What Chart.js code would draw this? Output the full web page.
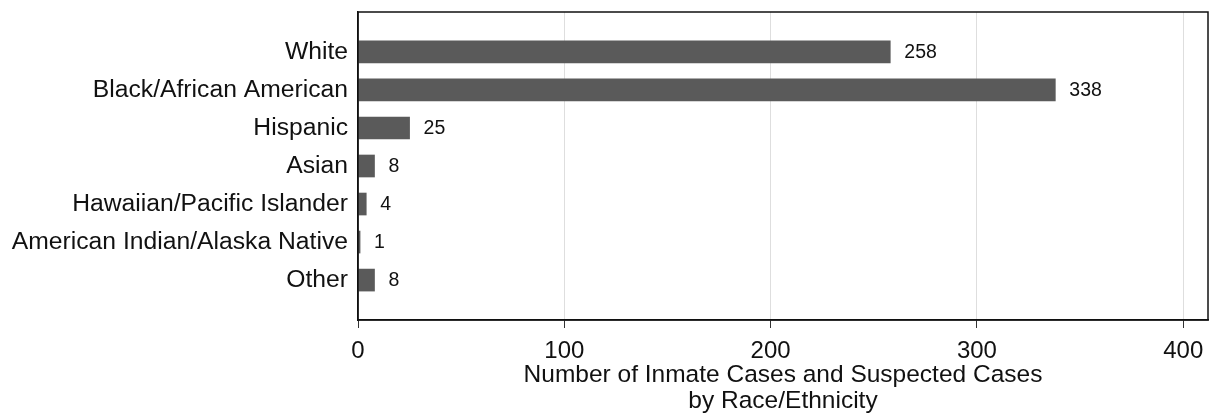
<!DOCTYPE html>
<html>
<head>
<meta charset="utf-8">
<script src="https://cdn.jsdelivr.net/npm/chart.js@4"></script>
<style>
  body { margin: 0; background: #fff; }
  #wrap { width: 1212px; height: 417px; }
</style>
</head>
<body>
<div id="wrap"><canvas id="myChart" width="1212" height="417"></canvas></div>
<script>
// data
var categories = ['White', 'Black/African American', 'Hispanic', 'Asian',
  'Hawaiian/Pacific Islander', 'American Indian/Alaska Native', 'Other'];
var cases = [258, 338, 25, 8, 4, 1, 8];
var xTicks = [0, 100, 200, 300, 400];
var axisTitle = ['Number of Inmate Cases and Suspected Cases', 'by Race/Ethnicity'];

var FONT = '"Liberation Sans", Arial, sans-serif';

// box around the plot area
var boxPlugin = {
  id: 'box',
  afterDraw: function (chart) {
    var a = chart.chartArea, ctx = chart.ctx;
    ctx.save();
    ctx.strokeStyle = '#111';
    ctx.lineWidth = 1.5;
    ctx.strokeRect(a.left, a.top, a.right - a.left, a.bottom - a.top);
    ctx.restore();
  }
};

// value next to each bar
var valuePlugin = {
  id: 'values',
  afterDatasetsDraw: function (chart) {
    var ctx = chart.ctx;
    var meta = chart.getDatasetMeta(0);
    ctx.save();
    ctx.font = '19.5px ' + FONT;
    ctx.fillStyle = '#111';
    ctx.textBaseline = 'middle';
    ctx.textAlign = 'left';
    meta.data.forEach(function (bar, i) {
      ctx.fillText(String(cases[i]), bar.x + 14, bar.y + 1);
    });
    ctx.restore();
  }
};

var ctx = document.getElementById('myChart');
var chartBar = new Chart(ctx, {
  type: 'bar',
  data: {
    datasets: [{
      label: 'Cases',
      data: cases.map(function (v, i) { return { x: v, y: i }; }),
      backgroundColor: '#5a5a5a',
      barThickness: 22
    }]
  },
  options: {
    responsive: false,
    animation: false,
    indexAxis: 'y',
    layout: { padding: { left: 0, right: 4, top: 12, bottom: 0 } },
    plugins: {
      legend: { display: false },
      tooltip: { enabled: false }
    },
    scales: {
      x: {
        type: 'linear',
        min: 0,
        max: 412,
        afterBuildTicks: function (scale) {
          scale.ticks = xTicks.map(function (v) { return { value: v }; });
        },
        afterFit: function (scale) {
          scale.height = 97;
          scale.paddingLeft = 0;
          scale.paddingRight = 0;
        },
        grid: {
          color: function (c) { return c.tick && c.tick.value === 0 ? 'rgba(0,0,0,0)' : '#dedede'; },
          lineWidth: 1,
          tickColor: '#333',
          tickLength: 8,
          drawTicks: true
        },
        border: { display: true, color: '#111', width: 1.5 },
        ticks: {
          color: '#111',
          font: { family: FONT, size: 24 },
          padding: 9,
          maxRotation: 0
        },
        title: {
          display: true,
          text: axisTitle,
          color: '#111',
          font: { family: FONT, size: 24.5, lineHeight: 1.06 },
          padding: { top: 0, bottom: 3 }
        }
      },
      y: {
        type: 'linear',
        reverse: true,
        offset: false,
        min: -1.05,
        max: 7.05,
        afterBuildTicks: function (scale) {
          scale.ticks = categories.map(function (c, i) { return { value: i }; });
        },
        afterFit: function (scale) {
          scale.width = 358;
          scale.paddingTop = 0;
          scale.paddingBottom = 0;
        },
        grid: { display: false, drawTicks: false },
        border: { display: true, color: '#111', width: 1.5 },
        ticks: {
          color: '#111',
          font: { family: FONT, size: 24.7 },
          padding: 10,
          autoSkip: false,
          callback: function (v) { return categories[v]; }
        }
      }
    }
  },
  plugins: [boxPlugin, valuePlugin]
});
</script>
</body>
</html>
